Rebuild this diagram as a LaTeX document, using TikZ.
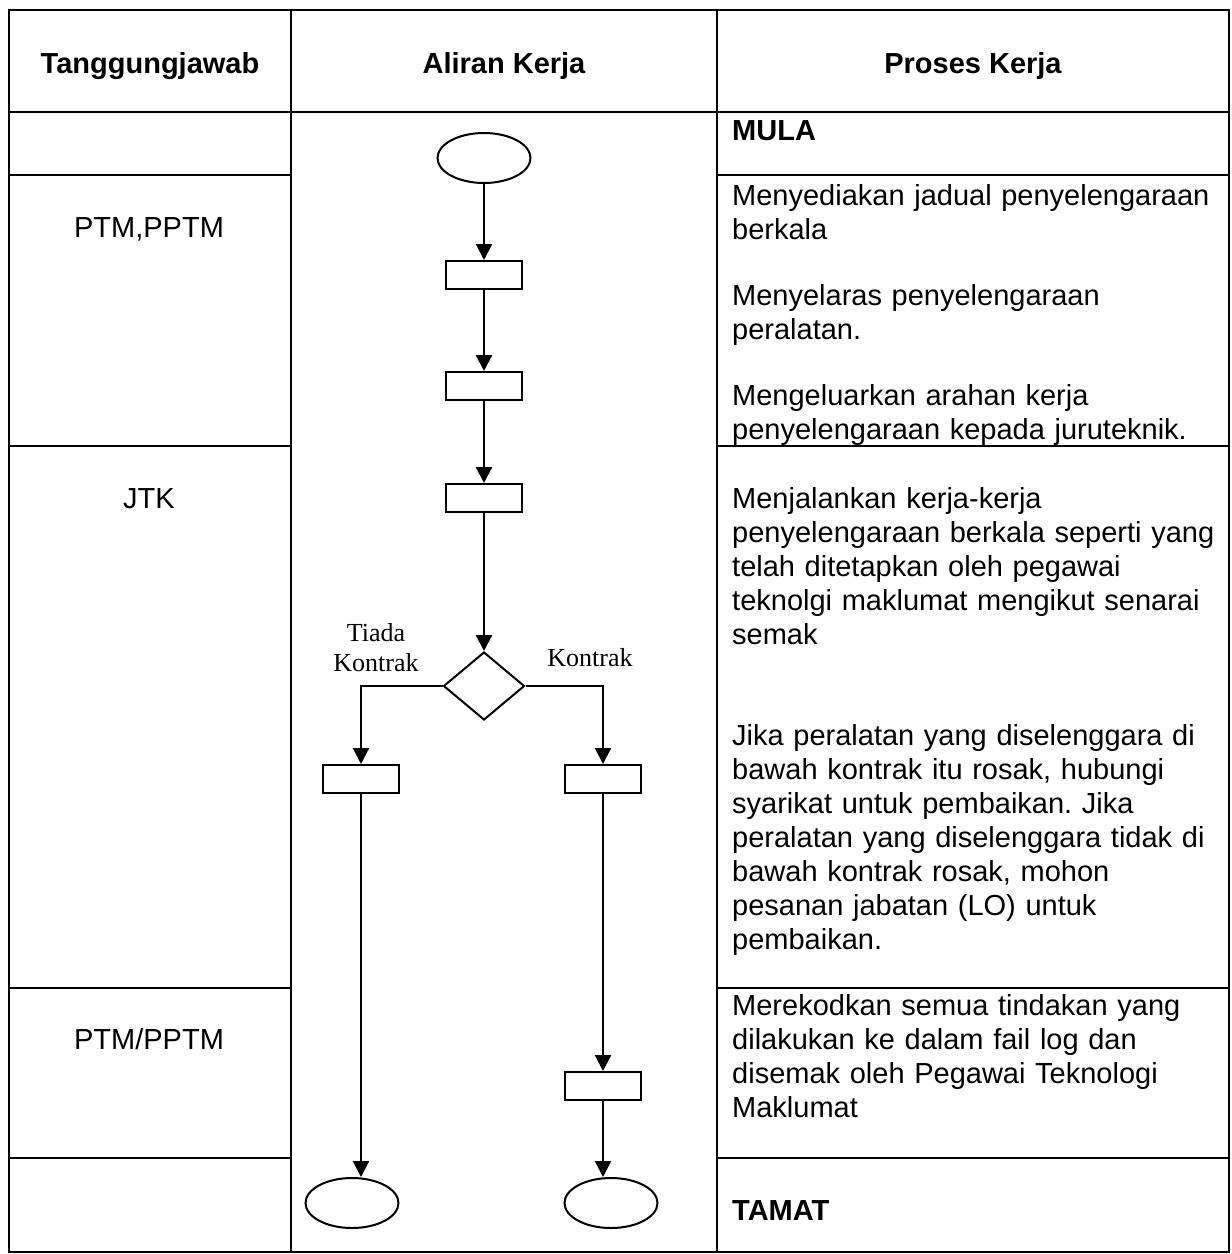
\documentclass[tikz,border=0pt]{standalone}
\usepackage{fontspec}
\setmainfont{Liberation Sans}
\newfontfamily\tnrfont{Liberation Serif}
\usetikzlibrary{shapes.geometric,arrows.meta}
\frenchspacing
\begin{document}
\begin{tikzpicture}[x=1pt,y=-1pt,
  grid/.style={line width=2.5pt,line cap=rect},
  body/.style={font=\fontsize{29}{34}\selectfont,inner sep=0pt},
  para/.style={body,anchor=base west,align=left,text width=520pt},
  boldpara/.style={para,font=\bfseries\fontsize{29}{34}\selectfont},
  hdr/.style={font=\bfseries\fontsize{29}{34}\selectfont,inner sep=0pt,anchor=base},
  who/.style={body,anchor=base},
  term/.style={ellipse,draw,line width=2pt,minimum width=93pt,minimum height=50pt,inner sep=0pt},
  proc/.style={rectangle,draw,line width=2pt,minimum width=76pt,minimum height=28pt,inner sep=0pt},
  dec/.style={diamond,draw,line width=2pt,minimum width=81pt,minimum height=68pt,inner sep=0pt},
  flow/.style={line width=2.2pt,-{Triangle[length=16pt,width=16pt]}},
  lbl/.style={font=\tnrfont\fontsize{26}{30}\selectfont,inner sep=0pt,align=center}
]
\useasboundingbox (0,0) rectangle (1232,1254);
\fill[white] (0,0) rectangle (1232,1254);

% table grid
\draw[grid] (9,10) rectangle (1229,1252);
\draw[grid] (291,10) -- (291,1252) (717,10) -- (717,1252);
\draw[grid] (9,112) -- (1229,112);
\foreach \yy in {175,446,988,1158} {
  \draw[grid] (9,\yy) -- (291,\yy) (717,\yy) -- (1229,\yy);
}

% headers
\node[hdr] (h1) at (150,73) {Tanggungjawab};
\node[hdr] (h2) at (504,73) {Aliran Kerja};
\node[hdr] (h3) at (973,73) {Proses Kerja};

% responsibility column
\node[who] (w1) at (149,237) {PTM,PPTM};
\node[who] (w2) at (149,508) {JTK};
\node[who] (w3) at (149,1049) {PTM/PPTM};

% process column
\node[boldpara] (mula) at (732,140) {MULA};
\node[para] (p1) at (732,205) {Menyediakan jadual penyelengaraan\\berkala};
\node[para] (p2) at (732,305) {Menyelaras penyelengaraan\\peralatan.};
\node[para] (p3) at (732,405) {Mengeluarkan arahan kerja\\penyelengaraan kepada juruteknik.};
\node[para] (p4) at (732,508) {Menjalankan kerja-kerja\\penyelengaraan berkala seperti yang\\telah ditetapkan oleh pegawai\\teknolgi maklumat mengikut senarai\\semak};
\node[para] (p5) at (732,745) {Jika peralatan yang diselenggara di\\bawah kontrak itu rosak, hubungi\\syarikat untuk pembaikan. Jika\\peralatan yang diselenggara tidak di\\bawah kontrak rosak, mohon\\pesanan jabatan (LO) untuk\\pembaikan.};
\node[para] (p6) at (732,1015) {Merekodkan semua tindakan yang\\dilakukan ke dalam fail log dan\\disemak oleh Pegawai Teknologi\\Maklumat};
\node[boldpara] (tamat) at (732,1220) {TAMAT};

% flowchart
\node[term] (s) at (484,158) {};
\node[proc] (r1) at (484,275) {};
\node[proc] (r2) at (484,386) {};
\node[proc] (r3) at (484,498) {};
\node[dec] (d) at (484,686) {};
\node[proc] (rl) at (361,779) {};
\node[proc] (rr) at (603,779) {};
\node[proc] (r4) at (603,1086) {};
\node[term] (el) at (352,1203) {};
\node[term] (er) at (611,1203) {};
\node[lbl] (lt) at (376,648) {Tiada\\Kontrak};
\node[lbl] (lk) at (590,658) {Kontrak};

\draw[flow] (s) -- (r1);
\draw[flow] (r1) -- (r2);
\draw[flow] (r2) -- (r3);
\draw[flow] (r3) -- (d);
\draw[flow] (d.west) -| (rl.north);
\draw[flow] (d.east) -| (rr.north);
\draw[flow] (rl) -- (rl |- el.north);
\draw[flow] (rr) -- (r4);
\draw[flow] (r4) -- (r4 |- er.north);
\end{tikzpicture}
\end{document}
